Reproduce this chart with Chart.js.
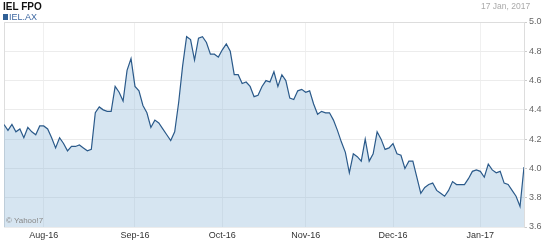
<!DOCTYPE html>
<html>
<head>
<meta charset="utf-8">
<script src="https://cdn.jsdelivr.net/npm/chart.js@4.4.0/dist/chart.umd.min.js"></script>
<style>
  body { margin: 0; background: #fff; font-family: "Liberation Sans", Arial, sans-serif; }
  #wrap { position: relative; width: 550px; height: 246px; }
  canvas { position: absolute; left: 0; top: 0; }
  .txt { position: absolute; white-space: nowrap; }
  #title { left: 3px; top: 1px; font-size: 10px; font-weight: bold; color: #111; }
  #sym { left: 3px; top: 12px; font-size: 9px; color: #3b66a0; }
  #sym span { display: inline-block; width: 5px; height: 6px; background: #2f5f95; margin-right: 1px; }
  #date { left: 481px; top: 1px; font-size: 8.5px; color: #aaa; }
  #copy { left: 6px; top: 216px; font-size: 8px; color: #888; }
</style>
</head>
<body>
<div id="wrap">
  <canvas id="chart" width="550" height="246"></canvas>
  <div class="txt" id="title">IEL FPO</div>
  <div class="txt" id="sym"><span></span>IEL.AX</div>
  <div class="txt" id="date">17 Jan, 2017</div>
  <div class="txt" id="copy">© Yahoo!7</div>
</div>
<script>
// daily closes, 18 Jul 2016 - 17 Jan 2017 (one per weekday)
const prices = [
  4.30, 4.26, 4.30, 4.25, 4.27, 4.21, 4.28, 4.25, 4.23, 4.29,
  4.29, 4.27, 4.21, 4.14, 4.21, 4.17, 4.12, 4.15, 4.15, 4.16,
  4.14, 4.12, 4.13, 4.38, 4.42, 4.40, 4.39, 4.39, 4.56, 4.52,
  4.46, 4.67, 4.75, 4.56, 4.53, 4.43, 4.38, 4.28, 4.33, 4.31,
  4.27, 4.23, 4.19, 4.25, 4.45, 4.70, 4.90, 4.88, 4.74, 4.89,
  4.90, 4.86, 4.78, 4.78, 4.76, 4.81, 4.85, 4.80, 4.64, 4.64,
  4.58, 4.59, 4.56, 4.49, 4.50, 4.56, 4.60, 4.59, 4.66, 4.56,
  4.64, 4.60, 4.48, 4.47, 4.53, 4.54, 4.52, 4.53, 4.44, 4.37,
  4.39, 4.38, 4.38, 4.33, 4.26, 4.18, 4.11, 3.97, 4.10, 4.08,
  4.05, 4.20, 4.05, 4.10, 4.25, 4.20, 4.13, 4.14, 4.17, 4.10,
  4.09, 4.00, 4.05, 4.05, 3.94, 3.83, 3.87, 3.89, 3.90, 3.85,
  3.83, 3.81, 3.85, 3.91, 3.89, 3.89, 3.89, 3.93, 3.98, 3.99,
  3.98, 3.94, 4.03, 3.99, 3.97, 3.98, 3.90, 3.89, 3.85, 3.81,
  3.74, 4.01
];

// first trading day of each month, as index into prices
const monthIndex = [10, 33, 55, 76, 98, 120];
const monthLabels = ['Aug-16', 'Sep-16', 'Oct-16', 'Nov-16', 'Dec-16', 'Jan-17'];
const yTicks = [3.6, 3.8, 4.0, 4.2, 4.4, 4.6, 4.8, 5.0];

const borderPlugin = {
  id: 'areaBorder',
  beforeDatasetsDraw(chart) {
    const { ctx, chartArea: a } = chart;
    ctx.save();
    ctx.strokeStyle = '#dddddd';
    ctx.lineWidth = 1;
    ctx.beginPath();
    ctx.moveTo(a.left + 0.5, a.bottom);
    ctx.lineTo(a.left + 0.5, a.top + 0.5);
    ctx.lineTo(a.right, a.top + 0.5);
    ctx.stroke();
    ctx.restore();
  }
};

new Chart(document.getElementById('chart'), {
  type: 'line',
  data: {
    datasets: [{
      data: prices.map((p, i) => ({ x: i, y: p })),
      borderColor: '#2b5a8a',
      borderWidth: 1.2,
      backgroundColor: 'rgba(120,170,210,0.3)',
      fill: 'start',
      pointRadius: 0,
      tension: 0
    }]
  },
  options: {
    responsive: false,
    animation: false,
    layout: { padding: { top: 22, left: 4, right: 0, bottom: 0 } },
    plugins: { legend: { display: false }, tooltip: { enabled: false } },
    scales: {
      x: {
        type: 'linear',
        min: 0,
        max: prices.length - 1,
        afterBuildTicks: s => { s.ticks = monthIndex.map(v => ({ value: v })); },
        afterFit: s => { s.height = 19; },
        ticks: {
          autoSkip: false,
          maxRotation: 0,
          color: '#333',
          font: { family: 'Liberation Sans', size: 9 },
          padding: 3,
          callback: v => monthLabels[monthIndex.indexOf(v)]
        },
        grid: { color: 'rgba(0,0,0,0.06)', drawTicks: false },
        border: { display: false }
      },
      y: {
        position: 'right',
        min: 3.6,
        max: 5.0,
        afterBuildTicks: s => { s.ticks = yTicks.map(v => ({ value: v })); },
        afterFit: s => { s.width = 26; },
        ticks: {
          color: '#666',
          font: { family: 'Liberation Sans', size: 9 },
          padding: 2,
          callback: v => v.toFixed(1)
        },
        grid: { color: '#ececec', tickLength: 3, tickColor: '#cccccc' },
        border: { display: true, color: '#dddddd' }
      }
    }
  },
  plugins: [borderPlugin]
});
</script>
</body>
</html>
